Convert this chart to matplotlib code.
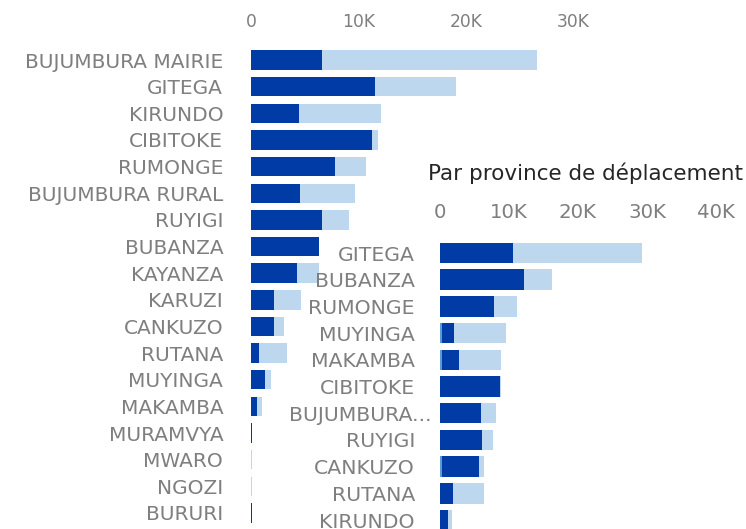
import numpy as np
import matplotlib.pyplot as plt
from matplotlib.ticker import FuncFormatter
from matplotlib.transforms import ScaledTranslation

# left chart: province d'origine
left_names = ["BUJUMBURA MAIRIE", "GITEGA", "KIRUNDO", "CIBITOKE", "RUMONGE",
              "BUJUMBURA RURAL", "RUYIGI", "BUBANZA", "KAYANZA", "KARUZI",
              "CANKUZO", "RUTANA", "MUYINGA", "MAKAMBA", "MURAMVYA", "MWARO",
              "NGOZI", "BURURI"]
left_dark = [6600, 11500, 4500, 11300, 7800, 4600, 6600, 6300, 4250, 2100,
             2100, 750, 1300, 530, 100, 0, 0, 100]
left_light = [20000, 7600, 7600, 500, 2900, 5100, 2500, 0, 2050, 2600,
              1000, 2600, 600, 520, 0, 80, 80, 0]

# right chart: par province de deplacement
right_names = ["GITEGA", "BUBANZA", "RUMONGE", "MUYINGA", "MAKAMBA", "CIBITOKE",
               "BUJUMBURA...", "RUYIGI", "CANKUZO", "RUTANA", "KIRUNDO"]
right_mid = [0, 0, 0, 350, 350, 0, 0, 0, 350, 0, 0]
right_dark = [10600, 12200, 7800, 1750, 2350, 8650, 5900, 6100, 5250, 1850, 1100]
right_light = [18700, 4000, 3300, 7500, 6200, 250, 2200, 1600, 800, 4550, 700]

DARK = "#003BA6"
MID = "#5B9BD5"
LIGHT = "#BDD7EE"
GREY = "#7F7F7F"

plt.rcParams['font.family'] = ['DejaVu Sans']

W, H = 746, 529
fig = plt.figure(figsize=(W / 100, H / 100), dpi=100)


def kfmt(v, pos):
    return "0" if v == 0 else f"{int(v / 1000)}K"


def style(ax, tick_size, label_size, xpad, ypad):
    ax.xaxis.tick_top()
    ax.xaxis.set_major_formatter(FuncFormatter(kfmt))
    ax.tick_params(axis='x', length=0, pad=xpad, labelsize=tick_size, labelcolor=GREY)
    ax.tick_params(axis='y', length=0, pad=ypad, labelsize=label_size, labelcolor=GREY)
    for s in ax.spines.values():
        s.set_visible(False)
    ax.set_facecolor("none")


# left axes
ax1 = fig.add_axes([251 / W, 1 - 526.3 / H, 376 / W, 479.6 / H])
y1 = np.arange(len(left_names))
ax1.barh(y1, left_dark, height=0.73, color=DARK)
ax1.barh(y1, left_light, left=left_dark, height=0.73, color=LIGHT)
ax1.set_xlim(0, 35000)
ax1.set_ylim(len(left_names) - 0.5, -0.5)
ax1.set_xticks([0, 10000, 20000, 30000])
ax1.set_yticks(y1)
ax1.set_yticklabels(left_names)
style(ax1, 12.3, 14.5, 11.5, 20)

# right axes
ax2 = fig.add_axes([440 / W, 1 - 533.35 / H, 303.6 / W, 293.7 / H])
y2 = np.arange(len(right_names))
mid = np.array(right_mid)
dark = np.array(right_dark)
ax2.barh(y2, mid, height=0.77, color=MID)
ax2.barh(y2, dark, left=mid, height=0.77, color=DARK)
ax2.barh(y2, right_light, left=mid + dark, height=0.77, color=LIGHT)
ax2.set_xlim(0, 44000)
ax2.set_ylim(len(right_names) - 0.5, -0.5)
ax2.set_xticks([0, 10000, 20000, 30000, 40000])
ax2.set_yticks(y2)
ax2.set_yticklabels(right_names)
style(ax2, 14.2, 14.7, 12.5, 18)
lbl = ax2.get_yticklabels()[6]
lbl.set_transform(lbl.get_transform() + ScaledTranslation(17 / 100, 0, fig.dpi_scale_trans))

fig.text(428 / W, 1 - 173 / H, "Par province de déplacement", fontsize=15.5,
         color="#262626", ha="left", va="center")

fig.savefig("out.png", dpi=100)
